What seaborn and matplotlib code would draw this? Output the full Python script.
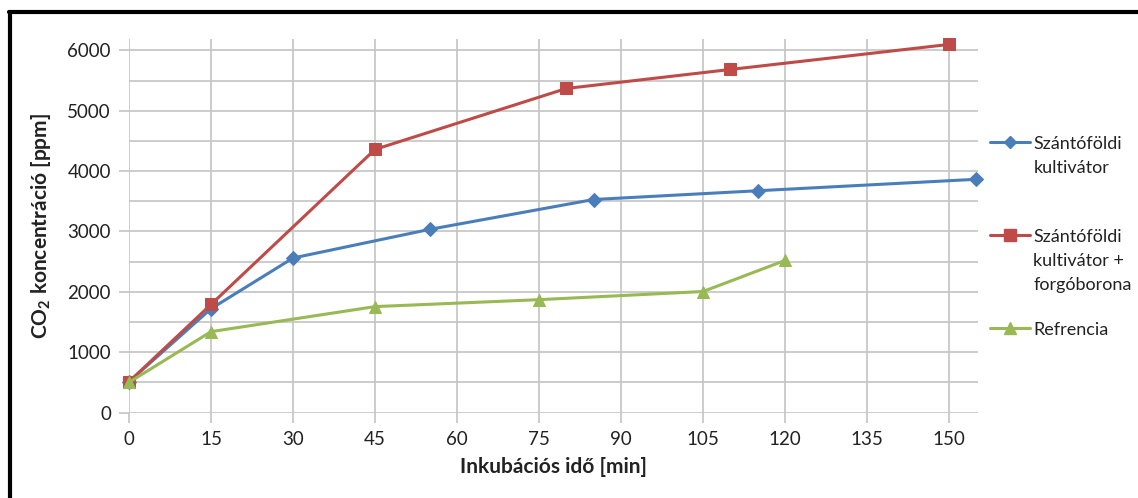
import matplotlib
matplotlib.use("Agg")
import matplotlib.pyplot as plt
from matplotlib.lines import Line2D
import seaborn as sns
import pandas as pd

# ---- data ----
x_kult = [0, 15, 30, 55, 85, 115, 155]
y_kult = [510, 1720, 2560, 3035, 3530, 3675, 3865]
x_forg = [0, 15, 45, 80, 110, 150]
y_forg = [510, 1790, 4360, 5370, 5685, 6100]
x_ref = [0, 15, 45, 75, 105, 120]
y_ref = [500, 1340, 1755, 1870, 2005, 2520]
labels = ["Szántóföldi\nkultivátor", "Szántóföldi\nkultivátor +\nforgóborona", "Refrencia"]
x_ticks = [0, 15, 30, 45, 60, 75, 90, 105, 120, 135, 150]
y_ticks = [0, 1000, 2000, 3000, 4000, 5000, 6000]

sns.set_theme(style="white")
plt.rcParams["font.family"] = ["Lato", "DejaVu Sans"]
plt.rcParams["mathtext.fontset"] = "custom"
plt.rcParams["mathtext.rm"] = "Lato"
plt.rcParams["mathtext.bf"] = "Lato:bold"

W, H = 1138, 498
fig = plt.figure(figsize=(W / 100, H / 100), dpi=100)
ax = fig.add_axes([129 / W, 1 - 412.5 / H, (978 - 129) / W, (412.5 - 39) / H])

colors = ["#4A7EBB", "#BE4B48", "#98B954"]
markers = ["D", "s", "^"]
msizes = [7, 9, 9]
series = [(x_kult, y_kult), (x_forg, y_forg), (x_ref, y_ref)]
for (xs, ys), c, m, ms, lab in zip(series, colors, markers, msizes, labels):
    df = pd.DataFrame({"x": xs, "y": ys})
    sns.lineplot(data=df, x="x", y="y", ax=ax, color=c, marker=m, markersize=ms,
                 markeredgecolor=c, linewidth=2.2, label=lab, clip_on=False, zorder=3)

ax.set_xlim(0, 155.3)
ax.set_ylim(0, 6190)
ax.set_xticks(x_ticks)
ax.set_yticks(y_ticks)
ax.set_yticks(range(500, 6001, 1000), minor=True)
ax.grid(True, which="both", axis="y", color="#c4c4c4", linewidth=1.2)
ax.grid(True, which="major", axis="x", color="#c4c4c4", linewidth=1.2)
for s in ax.spines.values():
    s.set_visible(False)
ax.tick_params(axis="both", which="major", length=7, width=1.2, color="#c4c4c4",
               labelsize=13.5, labelcolor="#222222", pad=6, left=True, bottom=True)
ax.tick_params(axis="y", which="minor", length=0)

ax.set_xlabel("Inkubációs idő [min]", fontsize=15, fontweight="bold", color="#222222", labelpad=7)
ax.set_ylabel(r"CO$_\mathbf{2}$ koncentráció [ppm]", fontsize=15, fontweight="bold",
              color="#222222", labelpad=10)

ax.legend_.remove()
handles = [Line2D([], [], color=c, marker=m, markersize=ms * 0.9, markeredgecolor=c, linewidth=2.2)
           for c, m, ms in zip(colors, markers, msizes)]
# pad entries to equal 3-line slots (as the source chart lays them out)
leg_labels = [labels[0] + "\n", labels[1], labels[2]]
leg = fig.legend(handles, leg_labels, loc="upper left", bbox_to_anchor=(990 / W, 1 - 136 / H),
                 frameon=False, fontsize=13, labelspacing=1.6, handlelength=2.2,
                 handletextpad=0.2, borderaxespad=0, borderpad=0)
for t in leg.get_texts():
    t.set_linespacing(1.62)
    t.set_color("#222222")
# align each handle with the first line of its label
for col in leg._legend_handle_box.get_children():
    for row in col.get_children():
        row.align = "top"

# outer frame (top and left edges visible)
fig.add_artist(Line2D([9 / W, 1], [1 - 12.5 / H, 1 - 12.5 / H], transform=fig.transFigure,
                      color="black", linewidth=3))
fig.add_artist(Line2D([9.5 / W, 9.5 / W], [0, 1 - 12.5 / H], transform=fig.transFigure,
                      color="black", linewidth=3))

fig.savefig("out.png", dpi=100)
